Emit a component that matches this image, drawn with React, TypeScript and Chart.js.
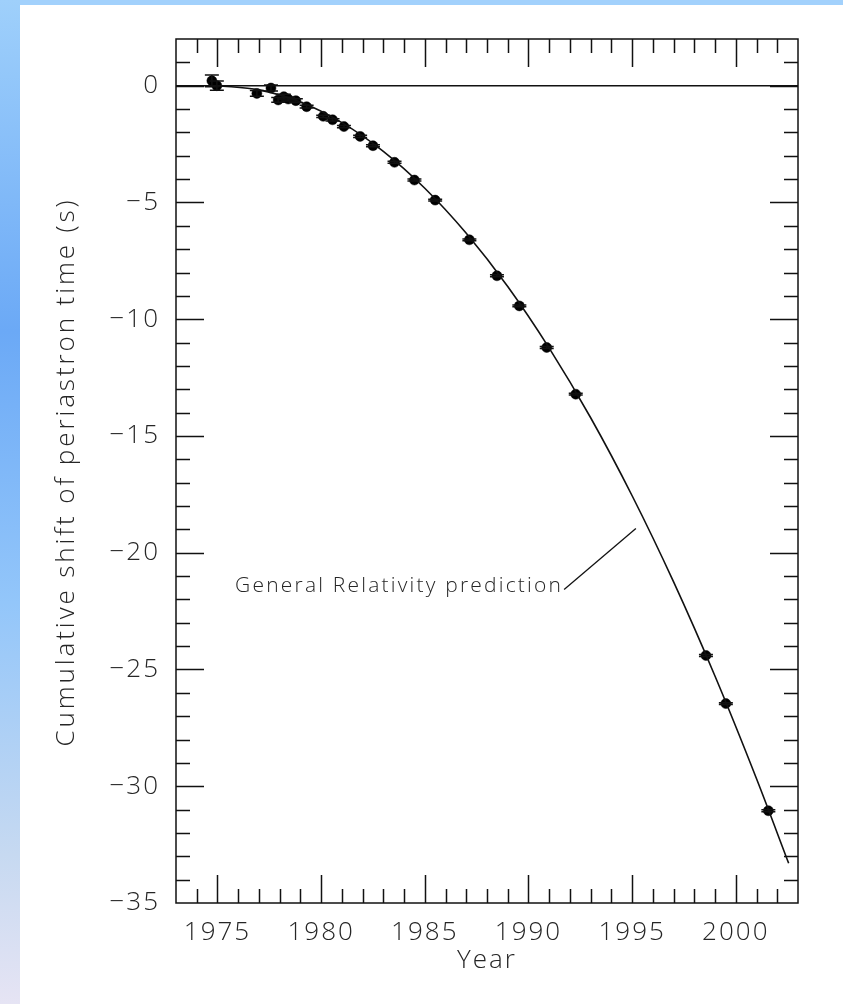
import { useEffect, useRef } from "react";
import { Chart, registerables } from "chart.js";

Chart.register(...registerables);

// Measured periastron-time shifts (year, shift in s, 1-sigma error in s)
const obsYears = [
  1974.73, 1974.97, 1976.9, 1977.58, 1977.93, 1978.2, 1978.41, 1978.78, 1979.3,
  1980.1, 1980.55, 1981.1, 1981.88, 1982.5, 1983.54, 1984.5, 1985.5, 1987.15,
  1988.48, 1989.56, 1990.88, 1992.28, 1998.56, 1999.52, 2001.57,
];
const obsShift = [
  0.21, 0.0, -0.33, -0.1, -0.61, -0.47, -0.57, -0.64, -0.9,
  -1.31, -1.46, -1.75, -2.17, -2.57, -3.28, -4.04, -4.9, -6.6,
  -8.14, -9.43, -11.21, -13.21, -24.4, -26.46, -31.05,
];
const obsError = [
  0.25, 0.2, 0.12, 0.13, 0.1, 0.1, 0.08, 0.08, 0.06,
  0.05, 0.05, 0.05, 0.05, 0.04, 0.04, 0.04, 0.04, 0.04,
  0.04, 0.04, 0.04, 0.04, 0.04, 0.04, 0.04,
];

// General Relativity prediction curve
const grYears = [1975, 1977, 1979, 1981, 1983, 1985, 1987, 1989, 1991, 1993, 1995, 1997, 1999, 2001, 2002.55];
const grShift = [0, -0.18, -0.7, -1.58, -2.81, -4.39, -6.32, -8.6, -11.24, -14.22, -17.56, -21.25, -25.29, -29.68, -33.3];

// Axes
const xTickValues = [1975, 1980, 1985, 1990, 1995, 2000];
const yTickValues = [0, -5, -10, -15, -20, -25, -30, -35];
const X_MIN = 1973;
const X_MAX = 2003;
const Y_MIN = -35;
const Y_MAX = 2;
const xTitle = "Year";
const yTitle = "Cumulative shift of periastron time (s)";

// Label with pointer to the curve
const grLabel = "General Relativity prediction";
const grLabelAt = { x: 1975.85, y: -21.7 };
const grPointerFrom = { x: 1991.72, y: -21.57 };
const grPointerTo = { x: 1995.18, y: -18.96 };

const FONT = "'Open Sans', 'Liberation Sans', sans-serif";
const INK = "#111";
const TEXT = "#262626";

const backgroundPlugin = {
  id: "pageBackground",
  beforeDraw(chart: any) {
    const { ctx, width, height } = chart;
    ctx.save();
    ctx.fillStyle = "#ffffff";
    ctx.fillRect(0, 0, width, height);
    ctx.fillStyle = "#a2d1fc";
    ctx.fillRect(0, 0, width, 5);
    const g = ctx.createLinearGradient(0, 0, 0, height);
    g.addColorStop(0, "#9fd0fb");
    g.addColorStop(0.33, "#6ba9f6");
    g.addColorStop(0.6, "#93c6fa");
    g.addColorStop(0.85, "#c6d9f1");
    g.addColorStop(1, "#e6e4f4");
    ctx.fillStyle = g;
    ctx.fillRect(0, 0, 20, height);
    ctx.restore();
    // wide, plotter-style spacing for the tick labels and axis titles
    (ctx as any).letterSpacing = "2px";
  },
};

const errorBarPlugin = {
  id: "errorBars",
  afterDatasetsDraw(chart: any) {
    const { ctx, scales } = chart;
    const xs = scales.x;
    const ys = scales.y;
    ctx.save();
    ctx.strokeStyle = INK;
    ctx.lineWidth = 1.5;
    obsYears.forEach((yr, i) => {
      const px = xs.getPixelForValue(yr);
      const top = ys.getPixelForValue(obsShift[i] + obsError[i]);
      const bot = ys.getPixelForValue(obsShift[i] - obsError[i]);
      ctx.beginPath();
      ctx.moveTo(px, top);
      ctx.lineTo(px, bot);
      ctx.moveTo(px - 7, top);
      ctx.lineTo(px + 7, top);
      ctx.moveTo(px - 7, bot);
      ctx.lineTo(px + 7, bot);
      ctx.stroke();
    });
    ctx.restore();
  },
};

const frameTicksPlugin = {
  id: "frameTicks",
  afterDraw(chart: any) {
    const { ctx, chartArea, scales } = chart;
    const { left, right, top, bottom } = chartArea;
    const xs = scales.x;
    const ys = scales.y;
    const MAJOR = 28;
    const MINOR = 14;
    ctx.save();
    ctx.strokeStyle = INK;
    ctx.lineWidth = 1.5;
    ctx.strokeRect(left, top, right - left, bottom - top);
    ctx.beginPath();
    for (let yr = Math.ceil(X_MIN); yr <= X_MAX; yr++) {
      if (yr <= X_MIN || yr >= X_MAX) continue;
      const len = yr % 5 === 0 ? MAJOR : MINOR;
      const px = Math.round(xs.getPixelForValue(yr)) + 0.5;
      ctx.moveTo(px, bottom);
      ctx.lineTo(px, bottom - len);
      ctx.moveTo(px, top);
      ctx.lineTo(px, top + len);
    }
    for (let v = Math.ceil(Y_MIN); v <= Y_MAX; v++) {
      if (v <= Y_MIN || v >= Y_MAX) continue;
      const len = v % 5 === 0 ? MAJOR : MINOR;
      const py = Math.round(ys.getPixelForValue(v)) + 0.5;
      ctx.moveTo(left, py);
      ctx.lineTo(left + len, py);
      ctx.moveTo(right, py);
      ctx.lineTo(right - len, py);
    }
    ctx.stroke();

    // y-axis title, centred on the plot height
    ctx.fillStyle = TEXT;
    ctx.font = `300 26px ${FONT}`;
    (ctx as any).letterSpacing = "2.9px";
    ctx.textAlign = "center";
    ctx.textBaseline = "middle";
    ctx.save();
    ctx.translate(67, (top + bottom) / 2 + 1);
    ctx.rotate(-Math.PI / 2);
    ctx.fillText(yTitle, 0, 0);
    ctx.restore();

    // curve annotation
    ctx.lineWidth = 1.3;
    ctx.beginPath();
    ctx.moveTo(xs.getPixelForValue(grPointerFrom.x), ys.getPixelForValue(grPointerFrom.y));
    ctx.lineTo(xs.getPixelForValue(grPointerTo.x), ys.getPixelForValue(grPointerTo.y));
    ctx.stroke();
    ctx.font = `300 21px ${FONT}`;
    (ctx as any).letterSpacing = "2.2px";
    ctx.textAlign = "left";
    ctx.textBaseline = "alphabetic";
    ctx.fillText(grLabel, xs.getPixelForValue(grLabelAt.x), ys.getPixelForValue(grLabelAt.y));
    ctx.restore();
  },
};

const fmt = (v: number) => (v < 0 ? "\u2212" + Math.abs(v) : String(v));

export default function App() {
  const canvasRef = useRef<HTMLCanvasElement | null>(null);

  useEffect(() => {
    const canvas = canvasRef.current;
    if (!canvas) return;
    const chart = new Chart(canvas, {
      type: "scatter",
      data: {
        datasets: [
          {
            label: "zero",
            data: [
              { x: X_MIN, y: 0 },
              { x: X_MAX, y: 0 },
            ],
            showLine: true,
            borderColor: INK,
            borderWidth: 1.5,
            pointRadius: 0,
          },
          {
            label: "GR prediction",
            data: grYears.map((x, i) => ({ x, y: grShift[i] })),
            showLine: true,
            borderColor: INK,
            borderWidth: 1.6,
            pointRadius: 0,
            cubicInterpolationMode: "monotone",
          },
          {
            label: "observed",
            data: obsYears.map((x, i) => ({ x, y: obsShift[i] })),
            showLine: false,
            pointRadius: 5,
            pointBackgroundColor: "#000",
            pointBorderColor: "#000",
            pointBorderWidth: 0.5,
          },
        ],
      },
      options: {
        responsive: false,
        animation: false,
        events: [],
        layout: { padding: { left: 20, top: 39, right: 45, bottom: 0 } },
        plugins: {
          legend: { display: false },
          tooltip: { enabled: false },
        },
        scales: {
          x: {
            type: "linear",
            min: X_MIN,
            max: X_MAX,
            grid: { display: false, drawTicks: false },
            border: { display: false },
            afterBuildTicks: (s: any) => {
              s.ticks = xTickValues.map((value) => ({ value }));
            },
            afterFit: (s: any) => {
              s.height = 101;
            },
            ticks: {
              padding: 14,
              color: TEXT,
              font: { family: FONT, size: 26, weight: "300" },
              maxRotation: 0,
              callback: (v: any) => String(v),
            },
            title: {
              display: true,
              text: xTitle,
              color: TEXT,
              font: { family: FONT, size: 26, weight: "300" },
              padding: { top: 0, bottom: 28 },
            },
          },
          y: {
            type: "linear",
            min: Y_MIN,
            max: Y_MAX,
            grid: { display: false, drawTicks: false },
            border: { display: false },
            afterBuildTicks: (s: any) => {
              s.ticks = yTickValues.map((value) => ({ value }));
            },
            afterFit: (s: any) => {
              s.width = 156;
            },
            ticks: {
              padding: 16,
              color: TEXT,
              font: { family: FONT, size: 26, weight: "300" },
              callback: (v: any) => fmt(Number(v)),
            },
            title: { display: false },
          },
        },
      } as any,
      plugins: [backgroundPlugin, errorBarPlugin, frameTicksPlugin],
    });
    return () => chart.destroy();
  }, []);

  return (
    <div style={{ position: "fixed", left: 0, top: 0, width: 843, height: 1004 }}>
      <canvas ref={canvasRef} width={843} height={1004} style={{ display: "block" }} />
    </div>
  );
}
